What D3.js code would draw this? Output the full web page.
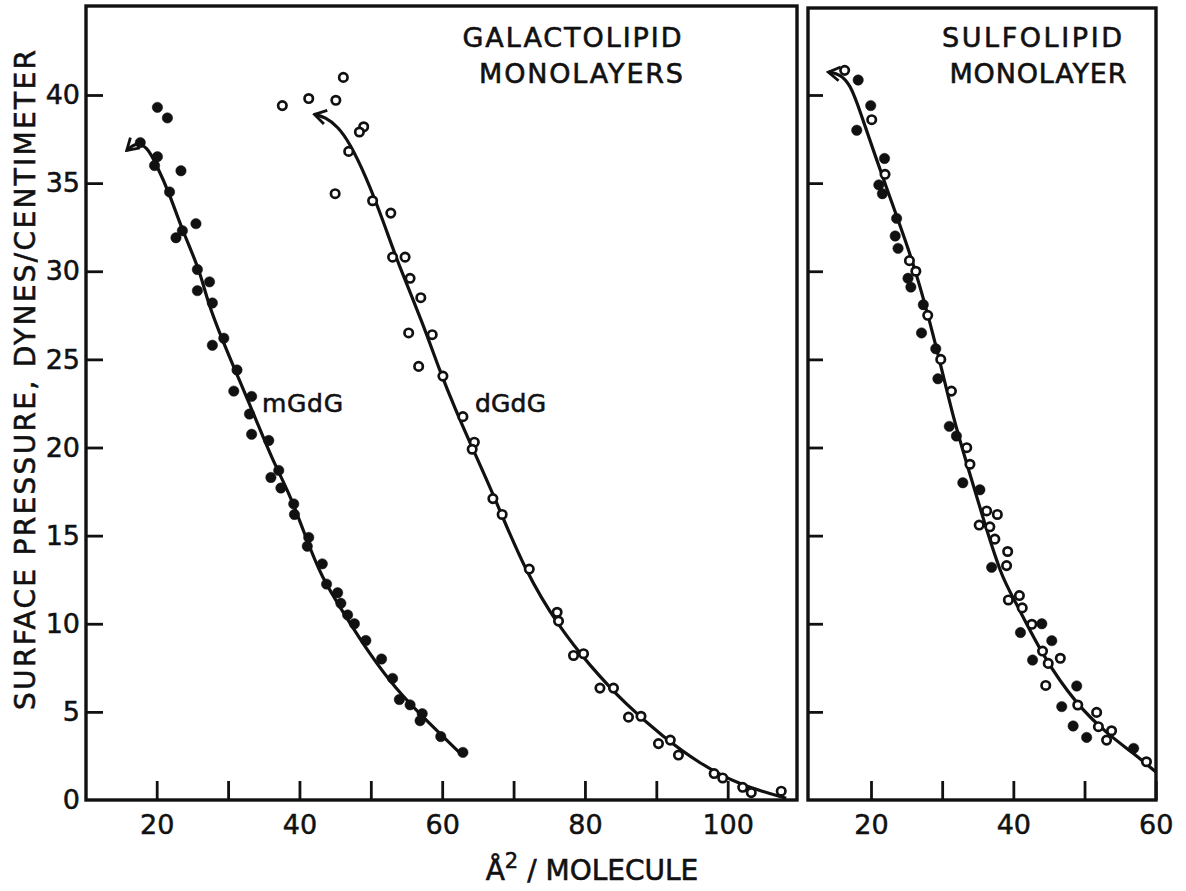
<!DOCTYPE html>
<html>
<head>
<meta charset="utf-8">
<script src="https://cdn.jsdelivr.net/npm/d3@7"></script>
<style>
  body { margin: 0; background: #fff; }
  svg { display: block; }
  text { font-family: "DejaVu Sans", "Liberation Sans", sans-serif; fill: #111; }
</style>
</head>
<body>
<div id="wrapper"></div>
<script>
// ---- data ----
const pressureTicks = [0, 5, 10, 15, 20, 25, 30, 35, 40];
const galactoTicks = [20, 30, 40, 50, 60, 70, 80, 90, 100];
const galactoLabels = [20, 40, 60, 80, 100];
const sulfoTicks = [20, 30, 40, 50, 60];
const sulfoLabels = [20, 40, 60];

// mGdG, filled points
const mgdgArea = [20.1, 21.5, 17.7, 20.1, 19.7, 23.4, 21.8, 25.5, 23.6, 22.7, 25.7, 27.4, 25.7, 27.8, 27.8, 29.4,
  31.25, 30.8, 33.3, 33.0, 33.3, 35.7, 37.1, 36.0, 37.4, 39.2, 39.3, 41.3, 41.1, 43.2, 43.8, 45.35, 45.8, 46.75,
  47.7, 49.3, 51.5, 53.05, 54.0, 55.5, 57.2, 56.9, 59.8, 62.9];
const mgdgPressure = [39.3, 38.7, 37.3, 36.5, 36.0, 35.7, 34.5, 32.7, 32.3, 31.9, 30.1, 29.4, 28.9, 28.2, 25.8, 26.2,
  24.4, 23.2, 22.9, 21.9, 20.75, 20.4, 18.7, 18.3, 17.7, 16.8, 16.2, 14.9, 14.4, 13.4, 12.25, 11.76, 11.16, 10.5,
  10.0, 9.05, 8.0, 6.9, 5.7, 5.4, 4.9, 4.5, 3.6, 2.7];
const mgdgCurveArea = [15.8, 17.0, 18.6, 19.9, 21.8, 23.6, 26.0, 27.1, 29.2, 31.6, 33.9, 36.2, 38.6, 40.9, 43.0, 46.5, 49.8, 53.5, 57.3, 62.9];
const mgdgCurvePressure = [36.85, 37.3, 37.1, 36.1, 34.4, 32.3, 30.1, 28.3, 26.1, 23.8, 21.6, 19.3, 17.4, 14.9, 12.7, 10.4, 8.3, 6.3, 4.7, 2.5];

// dGdG, open points
const dgdgArea = [37.6, 41.3, 45.1, 46.15, 49.0, 48.4, 46.9, 45.0, 50.25, 52.8, 53.05, 54.8, 55.5, 57.0, 55.3, 58.6,
  56.7, 60.1, 62.9, 64.5, 64.2, 67.1, 68.4, 72.2, 76.1, 76.3, 78.4, 79.8, 82.1, 84.0, 86.1, 87.85, 90.3, 91.96,
  93.1, 98.1, 99.3, 102.1, 103.3, 107.5];
const dgdgPressure = [39.4, 39.8, 39.7, 41.0, 38.2, 37.9, 36.8, 34.4, 34.0, 33.3, 30.8, 30.8, 29.6, 28.5, 26.5, 26.4,
  24.6, 24.05, 21.75, 20.3, 19.9, 17.1, 16.2, 13.1, 10.65, 10.15, 8.2, 8.3, 6.35, 6.35, 4.7, 4.75, 3.2, 3.4,
  2.55, 1.5, 1.25, 0.72, 0.42, 0.5];
const dgdgCurveArea = [42.1, 43.6, 45.4, 47.0, 49.3, 51.7, 53.8, 57.3, 59.6, 61.9, 64.3, 67.1, 71.7, 76.4, 80.6, 85.75, 90.9, 96.0, 101.6, 108.2];
const dgdgCurvePressure = [38.9, 38.75, 38.2, 37.3, 35.4, 32.9, 30.45, 27.05, 24.4, 22.1, 19.9, 17.4, 12.9, 9.8, 7.66, 5.4, 3.6, 2.08, 0.85, 0.1];

// sulfolipid, filled and open points
const sulfoFilledArea = [18.2, 19.96, 18.0, 21.9, 21.1, 21.6, 23.6, 23.4, 23.8, 25.2, 25.6, 27.35, 27.1, 29.1, 29.4,
  31.0, 32.0, 32.9, 35.3, 36.95, 44.0, 41.0, 45.4, 42.7, 48.9, 46.8, 48.4, 50.3, 56.9];
const sulfoFilledPressure = [40.85, 39.4, 38.0, 36.4, 34.9, 34.4, 33.0, 32.0, 31.3, 29.6, 29.1, 28.1, 26.5, 25.6, 23.9,
  21.2, 20.65, 18.0, 17.6, 13.2, 10.0, 9.5, 9.04, 7.94, 6.47, 5.3, 4.2, 3.55, 2.93];
const sulfoOpenArea = [16.3, 20.1, 21.97, 25.4, 26.3, 27.97, 29.8, 31.3, 33.45, 33.9, 36.25, 37.75, 35.2, 36.7, 37.4,
  39.2, 39.05, 39.3, 40.85, 41.25, 42.6, 44.1, 44.9, 46.6, 44.55, 49.05, 51.7, 51.95, 53.8, 53.1, 58.7];
const sulfoOpenPressure = [41.4, 38.6, 35.5, 30.6, 30.0, 27.5, 25.0, 23.2, 19.99, 19.05, 16.4, 16.2, 15.6, 15.5, 14.8,
  14.1, 13.3, 11.35, 11.6, 10.9, 9.97, 8.45, 7.75, 8.04, 6.5, 5.39, 4.97, 4.16, 3.93, 3.4, 2.17];
const sulfoCurveArea = [14.0, 15.6, 17.1, 18.45, 20.8, 23.1, 25.5, 27.35, 29.2, 31.6, 33.45, 35.8, 38.4, 40.0, 44.2, 48.9, 53.35, 56.9, 60.0];
const sulfoCurvePressure = [41.3, 41.2, 40.6, 39.1, 36.3, 33.7, 31.0, 28.5, 25.7, 21.6, 19.1, 15.9, 12.6, 11.5, 8.1, 5.4, 3.7, 2.65, 1.6];

const zip = (xs, ys) => xs.map((x, i) => ({ x: x, y: ys[i] }));

// ---- layout ----
const width = 1186, height = 891;
const plotTop = 6, plotBottom = 800;
const ink = "#111";

const svg = d3.select("#wrapper").append("svg")
  .attr("width", width)
  .attr("height", height);

svg.append("defs").append("marker")
  .attr("id", "arrow")
  .attr("viewBox", "0 -9 15 18")
  .attr("refX", 13)
  .attr("refY", 0)
  .attr("markerWidth", 15)
  .attr("markerHeight", 18)
  .attr("markerUnits", "userSpaceOnUse")
  .attr("orient", "auto-start-reverse")
  .append("path")
  .attr("d", "M1.5,-7L13,0L1.5,7")
  .attr("fill", "none")
  .attr("stroke", ink)
  .attr("stroke-width", 2.8);

const yScale = d3.scaleLinear().domain([0, 40]).range([plotBottom, plotBottom - 705]);

const xLeft = d3.scaleLinear().domain([20, 100]).range([156.7, 727.7]);
const xRight = d3.scaleLinear().domain([20, 60]).range([871, 1155.7]);

function drawPanel(x, left, right, top, xTicks, xLabels, yLabelled, yTickLen) {
  const g = svg.append("g");
  // x axis, ticks point up into the plot
  const xAxis = g.append("g")
    .attr("transform", `translate(0,${plotBottom})`)
    .call(d3.axisBottom(x)
      .tickValues(xTicks)
      .tickSize(-19)
      .tickPadding(15)
      .tickFormat(d => xLabels.includes(d) ? d : ""));
  xAxis.select(".domain").remove();
  xAxis.selectAll("line").attr("stroke", ink).attr("stroke-width", 2.8);
  xAxis.selectAll("text")
    .style("font-size", "27px")
    .style("font-family", "DejaVu Sans, sans-serif")
    .attr("fill", ink).attr("stroke", ink).attr("stroke-width", 0.5);

  // y axis, ticks point right into the plot
  const yAxis = g.append("g")
    .attr("transform", `translate(${left},0)`)
    .call(d3.axisLeft(yScale)
      .tickValues(pressureTicks)
      .tickSize(-yTickLen)
      .tickPadding(6)
      .tickFormat(d => yLabelled ? d : ""));
  yAxis.select(".domain").remove();
  yAxis.selectAll("line").attr("stroke", ink).attr("stroke-width", 2.8)
    .attr("opacity", d => d === 0 ? 0 : 1);
  yAxis.selectAll("text")
    .style("font-size", "27px")
    .style("font-family", "DejaVu Sans, sans-serif")
    .attr("fill", ink).attr("stroke", ink).attr("stroke-width", 0.5);

  // frame
  g.append("rect")
    .attr("x", left).attr("y", top)
    .attr("width", right - left).attr("height", plotBottom - top)
    .attr("fill", "none").attr("stroke", ink).attr("stroke-width", 3.4);
  return g;
}

drawPanel(xLeft, 86, 797, plotTop, galactoTicks, galactoLabels, true, 17);
drawPanel(xRight, 808, 1156, plotTop + 2, sulfoTicks, sulfoLabels, false, 15);

function drawCurve(x, pts) {
  const line = d3.line().x(d => x(d.x)).y(d => yScale(d.y)).curve(d3.curveBasis);
  svg.append("path")
    .attr("d", line(pts))
    .attr("fill", "none")
    .attr("stroke", ink)
    .attr("stroke-width", 3.2)
    .attr("marker-start", "url(#arrow)");
}

function drawDots(x, pts, filled) {
  svg.append("g").selectAll("circle").data(pts).join("circle")
    .attr("cx", d => x(d.x))
    .attr("cy", d => yScale(d.y))
    .attr("r", filled ? 5.2 : 4.2)
    .attr("fill", filled ? ink : "#fff")
    .attr("stroke", ink)
    .attr("stroke-width", filled ? 0.5 : 2.7);
}

drawCurve(xLeft, zip(mgdgCurveArea, mgdgCurvePressure));
drawCurve(xLeft, zip(dgdgCurveArea, dgdgCurvePressure));
drawCurve(xRight, zip(sulfoCurveArea, sulfoCurvePressure));

drawDots(xLeft, zip(mgdgArea, mgdgPressure), true);
drawDots(xLeft, zip(dgdgArea, dgdgPressure), false);
drawDots(xRight, zip(sulfoOpenArea, sulfoOpenPressure), false);
drawDots(xRight, zip(sulfoFilledArea, sulfoFilledPressure), true);

// ---- text ----
function label(txt, x, y, size, len, anchor) {
  const t = svg.append("text")
    .attr("x", x).attr("y", y)
    .attr("text-anchor", anchor || "middle")
    .style("font-size", size + "px")
    .attr("stroke", ink).attr("stroke-width", 0.6)
    .text(txt);
  if (len) t.attr("textLength", len).attr("lengthAdjust", "spacing");
}

label("GALACTOLIPID", 572, 47, 27, 219);
label("MONOLAYERS", 581, 83, 27, 204);
label("SULFOLIPID", 1032, 47, 27, 180);
label("MONOLAYER", 1038, 83, 27, 177);
label("mGdG", 262, 412, 25, 81, "start");
label("dGdG", 475, 412, 25, 71, "start");

// x axis title
const xTitle = svg.append("text")
  .attr("x", 592).attr("y", 880)
  .attr("text-anchor", "middle")
  .style("font-size", "28px")
  .attr("stroke", ink).attr("stroke-width", 0.6);
xTitle.append("tspan").text("Å");
xTitle.append("tspan").attr("dy", -12).style("font-size", "21px").text("2");
xTitle.append("tspan").attr("dy", 12).text(" / MOLECULE");

// y axis title
svg.append("text")
  .attr("transform", "translate(35,380) rotate(-90)")
  .attr("text-anchor", "middle")
  .style("font-size", "28px")
  .attr("textLength", 660)
  .attr("lengthAdjust", "spacing")
  .attr("stroke", ink).attr("stroke-width", 0.6)
  .text("SURFACE PRESSURE, DYNES/CENTIMETER");
</script>
</body>
</html>
